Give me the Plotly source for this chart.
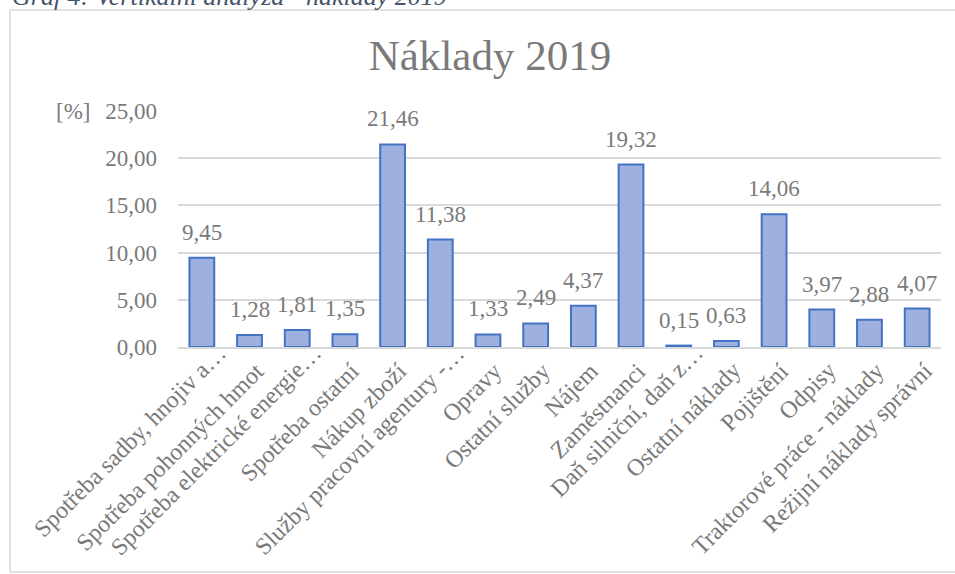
import plotly.graph_objects as go

categories = [
    "Spotřeba sadby, hnojiv a…",
    "Spotřeba pohonných hmot",
    "Spotřeba elektrické energie…",
    "Spotřeba ostatní",
    "Nákup zboží",
    "Služby pracovní agentury -…",
    "Opravy",
    "Ostatní služby",
    "Nájem",
    "Zaměstnanci",
    "Daň silniční, daň z…",
    "Ostatní náklady",
    "Pojištění",
    "Odpisy",
    "Traktorové práce - náklady",
    "Režijní náklady správní",
]
values = [9.45, 1.28, 1.81, 1.35, 21.46, 11.38, 1.33, 2.49, 4.37, 19.32, 0.15, 0.63, 14.06, 3.97, 2.88, 4.07]
y_ticks = [0, 5, 10, 15, 20, 25]

FONT = "Liberation Serif"
GRAY = "#7a7a7a"

W, H = 955, 574
L, R, T, B = 178, 14, 111, 227
pw = W - L - R
ph = H - T - B

def px_x(x):
    return (x - L) / pw

def px_y(y):
    return (H - B - y) / ph

fig = go.Figure()
fig.add_trace(go.Bar(
    x=categories,
    y=values,
    marker=dict(color="#9DB0DF", line=dict(color="#4472C4", width=2)),
    cliponaxis=False,
    width=0.52,
    hoverinfo="x+y",
))

label_annotations = [
    dict(x=c, y=v, xref="x", yref="y", text=f"{v:.2f}".replace(".", ","),
         xanchor="center", yanchor="bottom", yshift=11, showarrow=False,
         font=dict(family=FONT, size=23, color=GRAY))
    for c, v in zip(categories, values)
]

# category labels, rotated like Excel (truncated labels slide a bit up along their direction)
cat_annotations = []
for c in categories:
    truncated = c.endswith("…")
    cat_annotations.append(dict(
        x=c, y=0, xref="x", yref="y", text=c, textangle=-45,
        xanchor="right", yanchor="top", showarrow=False,
        xshift=32 if truncated else 22, yshift=10 if truncated else -8,
        font=dict(family=FONT, size=24, color=GRAY),
    ))

fig.update_layout(
    width=W, height=H,
    margin=dict(l=L, r=R, t=T, b=B, autoexpand=False),
    paper_bgcolor="white", plot_bgcolor="white",
    separators=", ",
    showlegend=False,
    font=dict(family=FONT, color=GRAY),
    title=dict(text="Náklady 2019", xref="container", x=490 / W, xanchor="center",
               yref="container", y=1 - 55 / H, yanchor="middle",
               font=dict(family=FONT, size=43, color=GRAY)),
    xaxis=dict(
        type="category",
        range=[-0.5, len(categories) - 0.5],
        showticklabels=False,
        showline=True, linecolor="#D9D9D9", linewidth=1.5,
        showgrid=False, ticks="",
        automargin=False,
    ),
    yaxis=dict(
        range=[0, 25],
        tickvals=y_ticks,
        tickformat=".2f",
        tickfont=dict(family=FONT, size=23, color=GRAY),
        showgrid=True, gridcolor="#D9D9D9", gridwidth=1.5,
        zeroline=False, showline=False, ticks="",
        ticklabelstandoff=20,
        automargin=False,
    ),
    shapes=[dict(
        type="rect", xref="paper", yref="paper",
        x0=px_x(10), x1=px_x(962), y0=px_y(572), y1=px_y(10),
        line=dict(color="#D9D9D9", width=1.5), fillcolor="rgba(0,0,0,0)", layer="below",
    )],
    annotations=label_annotations + cat_annotations + [
        dict(text="[%]", xref="paper", yref="paper", x=px_x(73), y=px_y(111),
             xanchor="center", yanchor="middle", showarrow=False,
             font=dict(family=FONT, size=23, color=GRAY)),
        dict(text="<i>Graf 4: Vertikální analýza - náklady 2019</i>", xref="paper", yref="paper",
             x=px_x(10), y=px_y(13), xanchor="left", yanchor="bottom", showarrow=False,
             font=dict(family=FONT, size=26, color="#44546A")),
    ],
)

fig.write_html("out.html", config={"displayModeBar": False},
               post_script="document.body.style.margin='0';")
